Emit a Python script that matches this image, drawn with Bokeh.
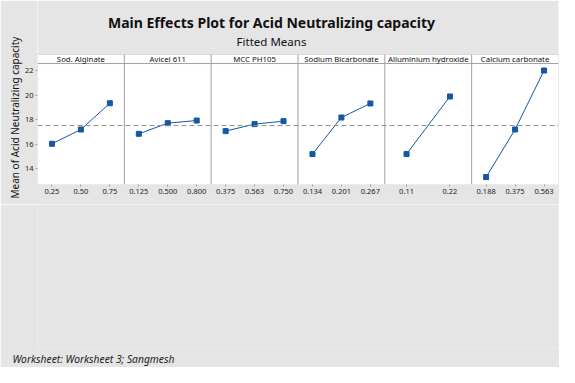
import math
from bokeh.plotting import figure
from bokeh.layouts import column
from bokeh.models import Range1d, FixedTicker, Span, Label, Title, BoxAnnotation
from bokeh.embed import file_html
from bokeh.resources import INLINE
from bokeh.core.properties import value

factors = ["Sod. Alginate", "Avicel 611", "MCC PH105", "Sodium Bicarbonate",
           "Alluminium hydroxide", "Calcium carbonate"]
levels = [["0.25", "0.50", "0.75"],
          ["0.125", "0.500", "0.800"],
          ["0.375", "0.563", "0.750"],
          ["0.134", "0.201", "0.267"],
          ["0.11", "0.22"],
          ["0.188", "0.375", "0.563"]]
means = [[16.04, 17.20, 19.34],
         [16.85, 17.72, 17.93],
         [17.07, 17.64, 17.88],
         [15.20, 18.18, 19.32],
         [15.20, 19.89],
         [13.33, 17.20, 22.00]]
grand_mean = 17.52
y_ticks = [14, 16, 18, 20, 22]

TITLE = "Main Effects Plot for Acid Neutralizing capacity"
SUBTITLE = "Fitted Means"
YLABEL = "Mean of Acid Neutralizing capacity"
FOOTER = "Worksheet: Worksheet 3; Sangmesh"

FONT = "Noto Sans"
BLUE = "#1357A6"
GRAY = "#A0A0A0"
BG = "#E5E5E5"
W = 559

# value range shown in the panels; the frame extends upward to hold the titles
y_lo, y_top, y_hdr, y_max = 12.725, 22.57, 23.30, 27.70

p = figure(width=W, height=204, frame_width=521, frame_height=184,
           min_border_left=37, min_border_right=1, min_border_top=0, min_border_bottom=20,
           x_range=Range1d(0, len(factors)), y_range=Range1d(y_lo, y_max),
           output_backend="svg", toolbar_location=None)
p.background_fill_color = "white"
p.border_fill_color = BG
p.outline_line_color = None
p.xgrid.visible = False
p.ygrid.visible = False

# gray area above the panels, and the panels' box
p.add_layout(BoxAnnotation(bottom=y_hdr, fill_color=BG, fill_alpha=1, line_color=None))
p.add_layout(BoxAnnotation(top=y_hdr, fill_alpha=0, line_color=GRAY, line_width=1))

tick_pos = []
overrides = {}
for k, lv in enumerate(levels):
    n = len(lv)
    for j, lab in enumerate(lv):
        xv = k + (j + 0.5) / n
        tick_pos.append(xv)
        overrides[xv] = lab

for ax in (p.xaxis[0], p.yaxis[0]):
    ax.axis_line_color = None
    ax.major_tick_line_color = GRAY
    ax.major_tick_in = 0
    ax.major_tick_out = 2
    ax.minor_tick_line_color = None
    ax.major_label_text_font = FONT
    ax.major_label_text_font_size = "7.5px"
    ax.major_label_text_color = "#222222"
    ax.major_label_standoff = 2
p.xaxis.ticker = FixedTicker(ticks=tick_pos)
p.xaxis.major_label_overrides = overrides
p.yaxis.ticker = FixedTicker(ticks=y_ticks)

p.add_layout(Title(text=YLABEL, align="left", offset=-14, vertical_align="bottom", standoff=0,
                   text_font=FONT, text_font_size="10px", text_font_style="normal",
                   text_color="#111111"), "left")

# panel separators, header line, grand mean
nf = len(factors)
p.segment(x0=list(range(1, nf)), y0=[y_lo] * (nf - 1), x1=list(range(1, nf)),
          y1=[y_hdr] * (nf - 1), line_color=GRAY, line_width=1)
p.segment(x0=[0], y0=[y_top], x1=[nf], y1=[y_top], line_color=GRAY, line_width=1)
p.add_layout(Span(location=grand_mean, dimension="width", line_color="#8C8C8C",
                  line_width=1, line_dash="5 3"))

p.text(x=[k + 0.5 for k in range(nf)], y=[(y_top + y_hdr) / 2] * nf,
       text=factors, text_align="center", text_baseline="middle",
       text_font=value(FONT), text_font_size="7.8px", text_color="#111111")

for k, (lv, mv) in enumerate(zip(levels, means)):
    n = len(lv)
    xs = [k + (j + 0.5) / n for j in range(n)]
    p.line(xs, mv, line_color=BLUE, line_width=1)
    p.scatter(xs, mv, marker="square", size=5, fill_color=BLUE, line_color=BLUE)

# titles (screen units relative to frame bottom-left; frame spans x 37..558, y 0..184)
p.add_layout(Label(x=234, y=162, x_units="screen", y_units="screen", text=TITLE,
                   text_align="center", text_baseline="middle", text_font=FONT,
                   text_font_size="14px", text_font_style="bold", text_color="#111111"))
p.add_layout(Label(x=234, y=143, x_units="screen", y_units="screen", text=SUBTITLE,
                   text_align="center", text_baseline="middle", text_font=FONT,
                   text_font_size="11.5px", text_color="#111111"))

# footer strip
bottom = figure(width=W, height=163, x_range=Range1d(0, 1), y_range=Range1d(0, 1),
                x_axis_type=None, y_axis_type=None, min_border=0,
                output_backend="svg", toolbar_location=None)
bottom.background_fill_color = BG
bottom.border_fill_color = BG
bottom.outline_line_color = None
bottom.xgrid.visible = False
bottom.ygrid.visible = False
bottom.add_layout(Title(text=FOOTER, align="left", offset=-25, standoff=3,
                        text_font=FONT, text_font_size="10.3px", text_font_style="italic",
                        text_color="#222222"), "below")

layout = column(p, bottom, spacing=0)
open("out.html", "w").write(file_html(layout, INLINE))
